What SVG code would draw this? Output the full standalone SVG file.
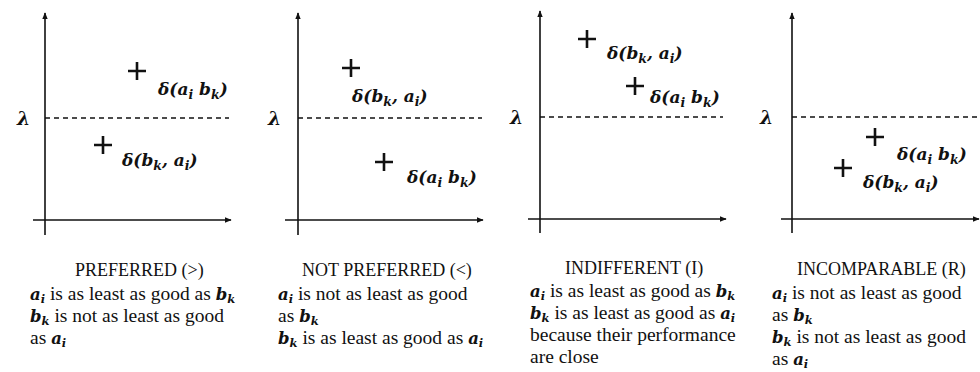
<svg xmlns="http://www.w3.org/2000/svg" width="980" height="372" viewBox="0 0 980 372">
<style>
.ax{stroke:#111;stroke-width:1.6;fill:none}
.dash{stroke:#111;stroke-width:1.3;stroke-dasharray:5,4;fill:none}
.pl{stroke:#111;stroke-width:2.6;fill:none}
.m{font-family:"DejaVu Serif","Liberation Serif",serif;font-weight:bold;font-style:italic;font-size:17px;fill:#111}
.lam{font-family:"DejaVu Serif","Liberation Serif",serif;font-weight:bold;font-style:italic;font-size:19px;fill:#111}
.t{font-family:"Liberation Serif","DejaVu Serif",serif;font-size:19.5px;fill:#111}
.h{font-size:18px}
.b{font-family:"DejaVu Serif","Liberation Serif",serif;font-weight:bold;font-style:italic;font-size:16.5px}
.s{font-size:12.5px}
.bs{font-size:11.5px}
</style>
<defs>
<marker id="ah" viewBox="0 0 10 10" refX="9" refY="5" markerWidth="7" markerHeight="7" orient="auto" markerUnits="userSpaceOnUse">
<path d="M0,1 L10,5 L0,9 z" fill="#111"/>
</marker>
</defs>

<g id="connectors">
<line class="ax" x1="45" y1="235" x2="45" y2="13" marker-end="url(#ah)"/>
<line class="ax" x1="33" y1="220" x2="231" y2="220" marker-end="url(#ah)"/>
<line class="dash" x1="45" y1="118" x2="229" y2="118"/>
<line class="ax" x1="298" y1="235" x2="298" y2="13" marker-end="url(#ah)"/>
<line class="ax" x1="285" y1="220" x2="483" y2="220" marker-end="url(#ah)"/>
<line class="dash" x1="298" y1="118" x2="482" y2="118"/>
<line class="ax" x1="540" y1="233" x2="540" y2="11" marker-end="url(#ah)"/>
<line class="ax" x1="528" y1="219" x2="726" y2="219" marker-end="url(#ah)"/>
<line class="dash" x1="540" y1="117" x2="723" y2="117"/>
<line class="ax" x1="792" y1="233" x2="792" y2="13" marker-end="url(#ah)"/>
<line class="ax" x1="781" y1="219" x2="979" y2="219" marker-end="url(#ah)"/>
<line class="dash" x1="792" y1="117" x2="980" y2="117"/>
</g>

<g id="panel1">
<text class="lam" x="17" y="125">λ</text>
<path class="pl" d="M128,71 h18 M137,62 v18"/>
<text class="m" x="158" y="95">δ(a<tspan class="s" dy="4">i</tspan><tspan dy="-4"> b</tspan><tspan class="s" dy="4">k</tspan><tspan dy="-4">)</tspan></text>
<path class="pl" d="M94,145 h18 M103,136 v18"/>
<text class="m" x="122" y="166">δ(b<tspan class="s" dy="4">k</tspan><tspan dy="-4">, a</tspan><tspan class="s" dy="4">i</tspan><tspan dy="-4">)</tspan></text>
<text class="t h" x="75" y="276">PREFERRED (&gt;)</text>
<text class="t" x="30" y="300"><tspan class="b">a</tspan><tspan class="b bs" dy="2.5">i</tspan><tspan dy="-2.5"> is as least as good as </tspan><tspan class="b">b</tspan><tspan class="b bs" dy="2.5">k</tspan></text>
<text class="t" x="30" y="322"><tspan class="b">b</tspan><tspan class="b bs" dy="2.5">k</tspan><tspan dy="-2.5"> is not as least as good</tspan></text>
<text class="t" x="30" y="344">as <tspan class="b">a</tspan><tspan class="b bs" dy="2.5">i</tspan></text>
</g>

<g id="panel2">
<text class="lam" x="268" y="125">λ</text>
<path class="pl" d="M342,68 h18 M351,59 v18"/>
<text class="m" x="352" y="102">δ(b<tspan class="s" dy="4">k</tspan><tspan dy="-4">, a</tspan><tspan class="s" dy="4">i</tspan><tspan dy="-4">)</tspan></text>
<path class="pl" d="M375,162 h18 M384,153 v18"/>
<text class="m" x="407" y="183">δ(a<tspan class="s" dy="4">i</tspan><tspan dy="-4"> b</tspan><tspan class="s" dy="4">k</tspan><tspan dy="-4">)</tspan></text>
<text class="t h" x="302" y="276">NOT PREFERRED (&lt;)</text>
<text class="t" x="278" y="300"><tspan class="b">a</tspan><tspan class="b bs" dy="2.5">i</tspan><tspan dy="-2.5"> is not as least as good</tspan></text>
<text class="t" x="278" y="322">as <tspan class="b">b</tspan><tspan class="b bs" dy="2.5">k</tspan></text>
<text class="t" x="278" y="344"><tspan class="b">b</tspan><tspan class="b bs" dy="2.5">k</tspan><tspan dy="-2.5"> is as least as good as </tspan><tspan class="b">a</tspan><tspan class="b bs" dy="2.5">i</tspan></text>
</g>

<g id="panel3">
<text class="lam" x="510" y="124">λ</text>
<path class="pl" d="M578,39 h18 M587,30 v18"/>
<text class="m" x="607" y="59">δ(b<tspan class="s" dy="4">k</tspan><tspan dy="-4">, a</tspan><tspan class="s" dy="4">i</tspan><tspan dy="-4">)</tspan></text>
<path class="pl" d="M626,86 h18 M635,77 v18"/>
<text class="m" x="650" y="103">δ(a<tspan class="s" dy="4">i</tspan><tspan dy="-4"> b</tspan><tspan class="s" dy="4">k</tspan><tspan dy="-4">)</tspan></text>
<text class="t h" x="565" y="274">INDIFFERENT (I)</text>
<text class="t" x="530" y="297"><tspan class="b">a</tspan><tspan class="b bs" dy="2.5">i</tspan><tspan dy="-2.5"> is as least as good as </tspan><tspan class="b">b</tspan><tspan class="b bs" dy="2.5">k</tspan></text>
<text class="t" x="530" y="319"><tspan class="b">b</tspan><tspan class="b bs" dy="2.5">k</tspan><tspan dy="-2.5"> is as least as good as </tspan><tspan class="b">a</tspan><tspan class="b bs" dy="2.5">i</tspan></text>
<text class="t" x="530" y="341">because their performance</text>
<text class="t" x="530" y="363">are close</text>
</g>

<g id="panel4">
<text class="lam" x="760" y="124">λ</text>
<path class="pl" d="M866,137 h18 M875,128 v18"/>
<text class="m" x="897" y="160">δ(a<tspan class="s" dy="4">i</tspan><tspan dy="-4"> b</tspan><tspan class="s" dy="4">k</tspan><tspan dy="-4">)</tspan></text>
<path class="pl" d="M834,168 h18 M843,159 v18"/>
<text class="m" x="863" y="188">δ(b<tspan class="s" dy="4">k</tspan><tspan dy="-4">, a</tspan><tspan class="s" dy="4">i</tspan><tspan dy="-4">)</tspan></text>
<text class="t h" x="797" y="275">INCOMPARABLE (R)</text>
<text class="t" x="772" y="299"><tspan class="b">a</tspan><tspan class="b bs" dy="2.5">i</tspan><tspan dy="-2.5"> is not as least as good</tspan></text>
<text class="t" x="772" y="321">as <tspan class="b">b</tspan><tspan class="b bs" dy="2.5">k</tspan></text>
<text class="t" x="772" y="343"><tspan class="b">b</tspan><tspan class="b bs" dy="2.5">k</tspan><tspan dy="-2.5"> is not as least as good</tspan></text>
<text class="t" x="772" y="365">as <tspan class="b">a</tspan><tspan class="b bs" dy="2.5">i</tspan></text>
</g>
</svg>
